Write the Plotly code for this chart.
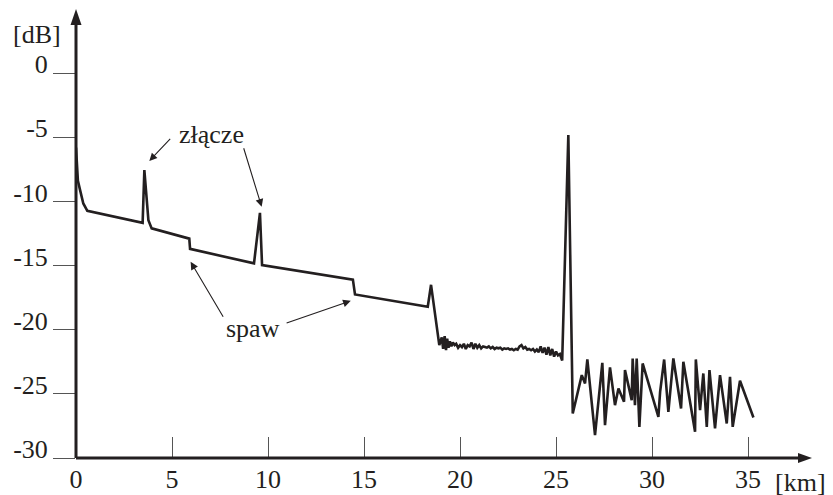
import plotly.graph_objects as go

# ---- data (distance in km, level in dB) ----
x_fiber = [0.0, 0.04, 0.1, 0.21, 0.38, 0.59, 3.47, 3.56, 3.77, 3.94, 5.9, 5.94,
           9.27, 9.58, 9.69, 14.42, 14.53, 18.32, 18.49, 18.92]
y_fiber = [-5.8, -7.4, -8.4, -9.1, -10.16, -10.73, -11.67, -7.56, -11.46, -12.1, -12.9, -13.7,
           -14.83, -10.89, -14.96, -16.1, -17.25, -18.21, -16.5, -21.2]

x_tail1 = [19.05, 19.12, 19.2, 19.27, 19.33, 19.4, 19.47, 19.55, 19.63, 19.72, 19.8, 19.9,
           20.0, 20.1, 20.2, 20.3, 20.4, 20.5, 20.6, 20.7, 20.8, 20.9,
           21.0, 21.1, 21.2, 21.3, 21.4, 21.5, 21.6, 21.7, 21.8, 21.9,
           22.0, 22.1, 22.2, 22.3, 22.4, 22.5, 22.6, 22.7, 22.8, 22.9,
           23.0, 23.1, 23.2, 23.3, 23.4, 23.5, 23.6, 23.7, 23.8, 23.9,
           24.0, 24.1, 24.2, 24.3, 24.4, 24.5, 24.6, 24.7, 24.8, 24.9,
           25.0, 25.1, 25.2, 25.32]
y_tail1 = [-20.6, -21.5, -20.5, -21.6, -20.7, -21.4, -20.9, -21.3, -21.0, -21.2, -21.1, -21.4,
           -21.2, -21.35, -21.1, -21.5, -21.2, -21.3, -21.0, -21.5, -21.1, -21.4,
           -21.2, -21.45, -21.3, -21.35, -21.4, -21.3, -21.45, -21.35, -21.5, -21.4,
           -21.45, -21.4, -21.55, -21.45, -21.5, -21.45, -21.55, -21.5, -21.6, -21.5,
           -21.55, -21.3, -21.2, -21.45, -21.35, -21.55, -21.5, -21.6, -21.5, -21.7,
           -21.55, -21.75, -21.3, -21.8, -21.4, -21.95, -21.35, -22.0, -21.5, -22.1,
           -21.7, -22.0, -21.9, -22.4]

x_end_peak = [25.64]
y_end_peak = [-4.83]

x_noise = [25.87, 26.34, 26.51, 26.63, 27.03, 27.41, 27.55, 27.81, 28.07, 28.25,
           28.54, 28.59, 28.94, 28.99, 29.11, 29.20, 29.34, 29.51, 30.33, 30.42,
           30.63, 30.85, 31.11, 31.51, 31.63, 32.24, 32.28, 32.50, 32.67, 32.85,
           32.99, 33.28, 33.54, 33.89, 34.06, 34.20, 34.58, 35.28]
y_noise = [-26.53, -23.54, -24.19, -22.32, -28.21, -22.58, -27.44, -22.94, -25.88, -24.58,
           -25.62, -23.15, -25.49, -22.24, -25.88, -22.24, -27.57, -22.63, -26.79, -24.84,
           -22.32, -26.40, -22.24, -26.14, -22.50, -27.96, -22.32, -26.27, -23.41, -27.57,
           -23.15, -27.70, -23.54, -27.31, -23.67, -27.57, -23.98, -26.84]

x_ticks = [0, 5, 10, 15, 20, 25, 30, 35]
x_ticktext = ["0", "5", "10", "15", "20", "25", "30", "35"]
y_ticks = [0, -5, -10, -15, -20, -25, -30]
y_ticktext = ["0", "-5", "-10", "-15", "-20", "-25", "-30"]

# annotations: (text, x, y) and arrows (tail -> head), data coordinates
label_zlacze = ("złącze", 7.08, -4.75)
label_spaw = ("spaw", 9.24, -19.88)
arrows_zlacze = [((4.98, -5.01), (3.82, -6.84)), ((8.71, -5.74), (9.67, -10.42))]
arrows_spaw = [((7.71, -19.10), (5.97, -14.71)), ((10.89, -19.51), (14.31, -17.75))]
unit_labels = [("[dB]", -0.053, 0.944), ("[km]", 0.984, -0.0535)]  # paper coords

X_MAX = 38.33
Y_MIN, Y_MAX = -30, 5

INK = "#231f20"
FONT = "Liberation Serif, Times New Roman, serif"

x_all = x_fiber + x_tail1 + x_end_peak + x_noise
y_all = y_fiber + y_tail1 + y_end_peak + y_noise

fig = go.Figure()
fig.add_trace(go.Scatter(x=x_all, y=y_all, mode="lines",
                         line=dict(color=INK, width=2.6), hoverinfo="skip"))

annotations = []
for text, ax_, ay_ in [label_zlacze, label_spaw]:
    annotations.append(dict(x=ax_, y=ay_, xref="x", yref="y", text=text, showarrow=False,
                            xanchor="center", yanchor="middle",
                            font=dict(family=FONT, size=26, color=INK)))
for (t, h) in arrows_zlacze + arrows_spaw:
    annotations.append(dict(x=h[0], y=h[1], ax=t[0], ay=t[1], xref="x", yref="y",
                            axref="x", ayref="y", text="", showarrow=True,
                            arrowhead=2, arrowsize=1.4, arrowwidth=1.1, arrowcolor=INK))
for text, px_, py_ in unit_labels:
    annotations.append(dict(x=px_, y=py_, xref="paper", yref="paper", text=text,
                            xanchor="center", yanchor="middle", borderpad=0,
                            showarrow=False, font=dict(family=FONT, size=26, color=INK)))

# axis lines with arrowheads (domain refs -> not clipped by the plot area)
shapes = [
    dict(type="line", xref="x domain", yref="y domain", x0=0, y0=0, x1=0.99, y1=0,
         line=dict(color=INK, width=3), layer="above"),
    dict(type="line", xref="x domain", yref="y domain", x0=0, y0=0, x1=0, y1=0.985,
         line=dict(color=INK, width=3), layer="above"),
    dict(type="path", xref="x domain", yref="y domain", xsizemode="pixel", ysizemode="pixel",
         xanchor=1, yanchor=0, path="M 0,0 L -14,5 L -14,-5 Z",
         fillcolor=INK, line=dict(width=0), layer="above"),
    dict(type="path", xref="x domain", yref="y domain", xsizemode="pixel", ysizemode="pixel",
         xanchor=0, yanchor=1, path="M 0,0 L -5.5,-16 L 5.5,-16 Z",
         fillcolor=INK, line=dict(width=0), layer="above"),
]

fig.update_layout(
    width=833, height=495,
    margin=dict(l=76, r=21, t=9, b=37, autoexpand=False),
    plot_bgcolor="white", paper_bgcolor="white",
    showlegend=False,
    font=dict(family=FONT, size=26, color=INK),
    annotations=annotations,
    shapes=shapes,
    xaxis=dict(range=[0, X_MAX], showgrid=False, zeroline=False, showline=False,
               tickmode="array", tickvals=x_ticks, ticktext=x_ticktext,
               ticks="inside", ticklen=21, tickwidth=1, tickcolor="#555555",
               ticklabelstandoff=3, automargin=False,
               tickfont=dict(family=FONT, size=26, color=INK), fixedrange=True),
    yaxis=dict(range=[Y_MIN, Y_MAX], showgrid=False, zeroline=False, showline=False,
               tickmode="array", tickvals=y_ticks, ticktext=y_ticktext,
               ticks="outside", ticklen=22, tickwidth=1, tickcolor="#555555",
               ticklabelshift=-9, automargin=False,
               tickfont=dict(family=FONT, size=26, color=INK), fixedrange=True),
)

fig.write_html("out.html", config={"displayModeBar": False})
